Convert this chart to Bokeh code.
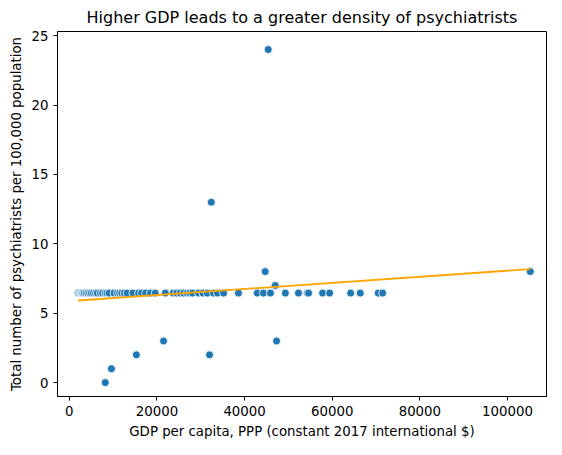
import numpy as np
from bokeh.plotting import figure
from bokeh.models import ColumnDataSource, NumeralTickFormatter, Range1d
from bokeh.embed import file_html
from bokeh.resources import INLINE

gdp_main = [2000, 2200, 2500, 2700, 2900, 3100, 3400, 3800, 4200, 4600, 5000, 5500, 6000,
            6400, 7100, 7600, 8200, 8600, 9100, 10200, 11000, 11500, 12000, 12600, 13200,
            14500, 15800, 16500, 17400, 18500, 19600, 21900, 23700, 24500, 25300, 26100,
            26900, 27500, 28100, 29500, 30500, 31500, 32900, 33800, 35200, 38600, 42900,
            44300, 45900, 49300, 52300, 54300, 54600, 57800, 59400, 64200, 66400, 70500, 71500]
psy_main = [6.45] * len(gdp_main)
gdp_out = [8200, 9600, 15300, 21500, 32000, 47300, 32400, 44700, 47000, 45400, 105200]
psy_out = [0, 1, 2, 3, 2, 3, 13, 8, 7, 24, 8]

x = np.array(gdp_main + gdp_out, dtype=float)
y = np.array(psy_main + psy_out, dtype=float)
m, b = np.polyfit(x, y, 1)

p = figure(width=554, height=441, output_backend="svg", toolbar_location=None,
           x_range=Range1d(-2700, 108900), y_range=Range1d(-1, 25.3),
           title="Higher GDP leads to a greater density of psychiatrists",
           min_border_left=57, min_border_right=8, min_border_top=31, min_border_bottom=40)
p.title.align = "center"
p.title.text_font = "DejaVu Sans"
p.title.text_font_size = "12pt"
p.title.text_font_style = "normal"
p.title.text_color = "black"
p.grid.visible = False
p.outline_line_color = "black"
for ax in (p.xaxis, p.yaxis):
    ax.axis_label_text_font = "DejaVu Sans"
    ax.axis_label_text_font_style = "normal"
    ax.axis_label_text_font_size = "10pt"
    ax.axis_label_text_color = "black"
    ax.major_label_text_font = "DejaVu Sans"
    ax.major_label_text_font_size = "10pt"
    ax.major_label_text_color = "black"
    ax.minor_tick_line_color = None
    ax.major_tick_out = 4
    ax.major_tick_in = 0
    ax.axis_line_color = "black"
p.xaxis.axis_label = "GDP per capita, PPP (constant 2017 international $)"
p.yaxis.axis_label = "Total number of psychiatrists per 100,000 population"
p.xaxis.ticker = [0, 20000, 40000, 60000, 80000, 100000]
p.yaxis.ticker = [0, 5, 10, 15, 20, 25]
p.xaxis.formatter = NumeralTickFormatter(format="0")

src = ColumnDataSource(dict(x=x, y=y))
p.scatter("x", "y", source=src, size=8, fill_color="#1f77b4", line_color="white", line_width=0.8)
xs = np.array([x.min(), x.max()])
p.line(xs, m * xs + b, line_color="orange", line_width=1.8)

open("out.html", "w").write(file_html(p, INLINE))
